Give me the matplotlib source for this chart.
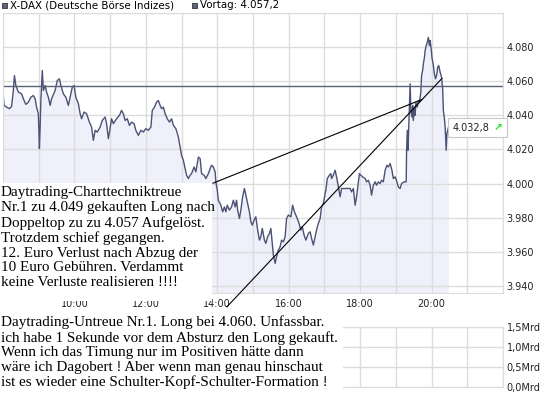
import matplotlib.pyplot as plt
from matplotlib.patches import Rectangle
from matplotlib.ticker import FuncFormatter
from matplotlib.offsetbox import TextArea, HPacker, AnnotationBbox

# X-DAX intraday, time in hours, price in index points
times = [8.00, 8.03, 8.10, 8.18, 8.24, 8.29, 8.32, 8.36, 8.43, 8.52, 8.59, 8.64, 8.71, 8.78,
         8.85, 8.90, 8.94, 8.99, 9.02, 9.04, 9.06, 9.10, 9.13, 9.18, 9.22, 9.27, 9.32, 9.36,
         9.46, 9.52, 9.58, 9.62, 9.69, 9.76, 9.83, 9.88, 9.94, 9.99, 10.04, 10.11, 10.16, 10.20,
         10.27, 10.34, 10.42, 10.48, 10.53, 10.58, 10.64, 10.72, 10.78, 10.86, 10.90, 10.95, 10.99,
         11.04, 11.09, 11.18, 11.26, 11.32, 11.37, 11.42, 11.48, 11.54, 11.60, 11.67, 11.72, 11.79,
         11.86, 11.93, 12.00, 12.07, 12.14, 12.18, 12.24, 12.30, 12.35, 12.40, 12.44, 12.49, 12.54,
         12.60, 12.66, 12.72, 12.77, 12.84, 12.91, 12.96, 13.00, 13.05, 13.10, 13.14, 13.19, 13.24,
         13.28, 13.35, 13.40, 13.47, 13.52, 13.56, 13.63, 13.68, 13.75, 13.80, 13.84, 13.89, 13.94,
         13.96, 14.00, 14.03, 14.10, 14.15, 14.20, 14.24, 14.28, 14.34, 14.40, 14.45, 14.50, 14.54,
         14.57, 14.62, 14.66, 14.71, 14.76, 14.80, 14.85, 14.90, 14.94, 14.98, 15.03, 15.08, 15.13,
         15.18, 15.22, 15.26, 15.32, 15.36, 15.41, 15.46, 15.50, 15.53, 15.57, 15.62, 15.66, 15.71,
         15.76, 15.80, 15.85, 15.90, 15.94, 15.99, 16.06, 16.11, 16.16, 16.22, 16.29, 16.34, 16.38,
         16.43, 16.48, 16.55, 16.60, 16.64, 16.69, 16.74, 16.79, 16.83, 16.88, 16.92, 16.97, 17.02,
         17.04, 17.08, 17.14, 17.18, 17.20, 17.25, 17.30, 17.34, 17.39, 17.44, 17.48, 17.58, 17.67,
         17.72, 17.76, 17.81, 17.86, 17.90, 17.95, 17.98, 18.02, 18.07, 18.14, 18.18, 18.23, 18.28,
         18.32, 18.37, 18.42, 18.46, 18.51, 18.56, 18.60, 18.65, 18.70, 18.75, 18.79, 18.84, 18.89,
         18.93, 18.98, 19.03, 19.07, 19.12, 19.16, 19.23, 19.29, 19.30, 19.32, 19.34, 19.36, 19.38,
         19.40, 19.42, 19.45, 19.47, 19.49, 19.52, 19.54, 19.56, 19.60, 19.63, 19.66, 19.70, 19.72,
         19.75, 19.77, 19.80, 19.82, 19.85, 19.88, 19.91, 19.94, 19.96, 19.99, 20.01, 20.05, 20.08,
         20.11, 20.15, 20.17, 20.20, 20.24, 20.28, 20.31, 20.33, 20.36, 20.38, 20.40, 20.41, 20.43,
         20.47]
prices = [4052.6, 4045.8, 4044.8, 4043.9, 4045.2, 4054.6, 4063.3, 4057.5, 4053.6, 4052.6, 4048.7,
          4046.4, 4047.7, 4050.6, 4051.6, 4049.7, 4044.8, 4040.9, 4020.5, 4033.1, 4048.7, 4066.3,
          4054.6, 4057.5, 4053.6, 4050.6, 4045.8, 4049.7, 4054.6, 4060.4, 4061.4, 4057.5, 4052.6,
          4050.6, 4045.8, 4050.6, 4056.5, 4057.5, 4050.6, 4046.8, 4040.9, 4038.0, 4041.9, 4040.9,
          4036.0, 4033.1, 4025.3, 4031.2, 4030.2, 4033.1, 4037.0, 4039.0, 4035.1, 4026.3, 4031.2,
          4038.0, 4035.1, 4038.0, 4040.0, 4042.9, 4040.9, 4037.0, 4038.0, 4034.1, 4036.0, 4035.1,
          4031.2, 4028.2, 4031.2, 4030.2, 4032.2, 4031.2, 4033.1, 4042.9, 4044.8, 4047.7, 4048.7,
          4045.8, 4043.9, 4044.8, 4040.9, 4038.0, 4036.0, 4038.0, 4034.1, 4032.2, 4027.3, 4021.4,
          4016.5, 4013.6, 4008.8, 4004.9, 4002.9, 4004.9, 4005.8, 4009.7, 4006.8, 4015.5, 4014.6,
          4005.8, 4004.9, 4002.9, 4005.8, 4008.8, 4010.7, 4009.7, 4006.8, 4000.9, 3996.1, 3990.2,
          3987.3, 3983.4, 3986.3, 3983.4, 3987.3, 3984.4, 3986.3, 3990.2, 3986.3, 3990.2, 3984.4,
          3979.5, 3984.4, 3992.2, 3997.1, 3993.2, 3988.3, 3983.4, 3977.5, 3975.6, 3978.5, 3980.5,
          3972.7, 3966.8, 3968.8, 3973.7, 3966.8, 3964.9, 3968.8, 3970.7, 3973.7, 3966.8, 3958.1,
          3953.2, 3957.1, 3961.0, 3962.9, 3966.8, 3965.8, 3968.8, 3979.5, 3981.5, 3980.5, 3987.3,
          3983.4, 3980.5, 3976.6, 3972.7, 3974.7, 3969.8, 3966.8, 3970.7, 3971.7, 3967.8, 3963.9,
          3968.8, 3973.7, 3976.6, 3979.5, 3986.3, 3988.3, 3994.2, 3996.1, 4002.9, 4004.9, 4005.8,
          4002.9, 4004.9, 4007.8, 4003.9, 3998.0, 3992.2, 3997.1, 3997.1, 3997.1, 3997.1, 3995.1,
          3997.1, 3987.3, 3992.2, 4000.9, 4005.8, 4004.9, 4003.9, 4002.9, 4001.0, 4001.9, 3999.0,
          3993.2, 3999.0, 4001.0, 3999.0, 4001.0, 4000.0, 4001.9, 4001.0, 4007.8, 4010.7, 4009.7,
          4011.7, 4007.8, 4002.9, 4003.9, 4001.0, 3998.0, 3997.1, 4000.0, 4001.0, 4001.0, 4019.5,
          4031.2, 4019.5, 4033.1, 4044.8, 4058.5, 4042.9, 4039.0, 4045.8, 4037.0, 4044.8, 4040.0,
          4047.7, 4044.8, 4048.7, 4047.7, 4053.6, 4063.3, 4066.3, 4070.2, 4074.0, 4078.0, 4080.9,
          4082.8, 4085.7, 4080.9, 4083.8, 4078.9, 4074.0, 4069.2, 4064.3, 4061.4, 4064.3, 4068.2,
          4069.2, 4065.3, 4062.3, 4055.6, 4042.9, 4038.0, 4033.1, 4023.4, 4019.5, 4029.2, 4032.8]
prev_close = 4057.2
last_label = "4.032,8"

# hand drawn trend lines
line_a_t = [13.88, 19.73]
line_a_p = [4000.2, 4049.3]
line_b_t = [14.27, 20.29]
line_b_p = [3927.7, 4061.6]

vol_times = [20.40]
vol_values = [0.015]

hours = list(range(8, 23))
hour_labels = [f"{h}:00" if h % 2 == 0 and 10 <= h <= 20 else "" for h in hours]
price_ticks = list(range(3940, 4101, 20))
vol_ticks = [0, 0.5, 1.0, 1.5]

note_top = ("Daytrading-Charttechniktreue\n"
            "Nr.1 zu 4.049 gekauften Long nach\n"
            "Doppeltop zu zu 4.057 Aufgelöst.\n"
            "Trotzdem schief gegangen.\n"
            "12. Euro Verlust nach Abzug der\n"
            "10 Euro Gebühren. Verdammt\n"
            "keine Verluste realisieren !!!!")
note_bottom = ("Daytrading-Untreue Nr.1. Long bei 4.060. Unfassbar.\n"
               "ich habe 1 Sekunde vor dem Absturz den Long gekauft.\n"
               "Wenn ich das Timung nur im Positiven hätte dann\n"
               "wäre ich Dagobert ! Aber wenn man genau hinschaut\n"
               "ist es wieder eine Schulter-Kopf-Schulter-Formation !")

W, H = 545, 395
grid_c = '#dcdcdc'
line_c = '#4b5274'

fig = plt.figure(figsize=(W / 100, H / 100), dpi=100)

# price panel
ax = fig.add_axes([3 / W, 1 - 293 / H, 500 / W, 280 / H])
ymin = 3935.8
ax.set_xlim(8, 22)
ax.set_ylim(ymin, 4100)
ax.fill_between(times, prices, ymin, color='#f0f0fa', lw=0, zorder=1)
ax.plot(times, prices, color=line_c, lw=1.0, zorder=2)
ax.axhline(prev_close, color='#5b6179', lw=1.0, zorder=2)
ax.plot(line_a_t, line_a_p, color='black', lw=0.8, zorder=4)
ax.plot(line_b_t, line_b_p, color='black', lw=0.8, zorder=4, clip_on=False)

ax.set_xticks(hours)
ax.set_xticklabels(hour_labels)
ax.set_yticks(price_ticks)
ax.yaxis.set_major_formatter(FuncFormatter(
    lambda v, p: "" if v >= 4100 else f"{v:,.0f}".replace(",", ".")))
ax.yaxis.tick_right()
ax.tick_params(length=0, labelsize=7, colors='#222222')
ax.tick_params(axis='y', pad=2.5)
ax.tick_params(axis='x', pad=4)
ax.grid(True, color=grid_c, lw=1.0)
ax.set_axisbelow('line')
for s in ax.spines.values():
    s.set_color(grid_c)

# last price badge
t1 = TextArea(last_label, textprops=dict(size=7, color='#222222'))
t2 = TextArea("\u2197", textprops=dict(size=7.5, color='#22dd22', fontweight='bold'))
badge = HPacker(children=[t1, t2], pad=0, sep=3, align='center')
ab = AnnotationBbox(badge, (times[-1], prices[-1]), xybox=(3, 0), boxcoords='offset points',
                    box_alignment=(0, 0.5), pad=0.35,
                    bboxprops=dict(edgecolor='#c8c8c8', facecolor='white', lw=0.8,
                                   boxstyle='square,pad=0.35'))
ab.set_zorder(6)
ax.add_artist(ab)

# volume panel
vax = fig.add_axes([3 / W, 1 - 386.7 / H, 500 / W, 60 / H])
vax.set_xlim(8, 22)
vax.set_ylim(0, 1.5)
vax.bar(vol_times, vol_values, width=0.02, color='#33cc33')
vax.set_xticks(hours)
vax.set_xticklabels([])
vax.set_yticks(vol_ticks)
vax.yaxis.set_major_formatter(FuncFormatter(lambda v, p: f"{v:.1f}Mrd".replace(".", ",")))
vax.yaxis.tick_right()
vax.tick_params(length=0, labelsize=7, colors='#222222', pad=2.5)
vax.grid(True, color=grid_c, lw=1.0)
vax.set_axisbelow(True)
for s in vax.spines.values():
    s.set_color(grid_c)

# header legend
fig.add_artist(Rectangle((2 / W, 1 - 7.5 / H), 5 / W, 5 / H, transform=fig.transFigure,
                         facecolor='#5c6281', edgecolor='#333333', lw=0.6))
fig.text(10 / W, 1 - 5 / H, "X-DAX (Deutsche Börse Indizes)", size=7.4, va='center')
fig.add_artist(Rectangle((192 / W, 1 - 7.5 / H), 5 / W, 5 / H, transform=fig.transFigure,
                         facecolor='#5c6281', edgecolor='#333333', lw=0.6))
fig.text(200 / W, 1 - 5 / H, "Vortag: 4.057,2", size=7.4, va='center')

# scribbled notes
fig.add_artist(Rectangle((0, 1 - 301 / H), 212 / W, 118 / H, transform=fig.transFigure,
                         facecolor='white', edgecolor='none', zorder=5))
fig.text(1 / W, 1 - 185.5 / H, note_top, family='Liberation Serif', size=10.9,
         va='top', ha='left', linespacing=1.16, zorder=6)
fig.add_artist(Rectangle((0, 0), 343 / W, 85 / H, transform=fig.transFigure,
                         facecolor='white', edgecolor='none', zorder=5))
fig.text(1 / W, 1 - 315.5 / H, note_bottom, family='Liberation Serif', size=10.9,
         va='top', ha='left', linespacing=1.16, zorder=6)

fig.savefig('out.png', dpi=100)
